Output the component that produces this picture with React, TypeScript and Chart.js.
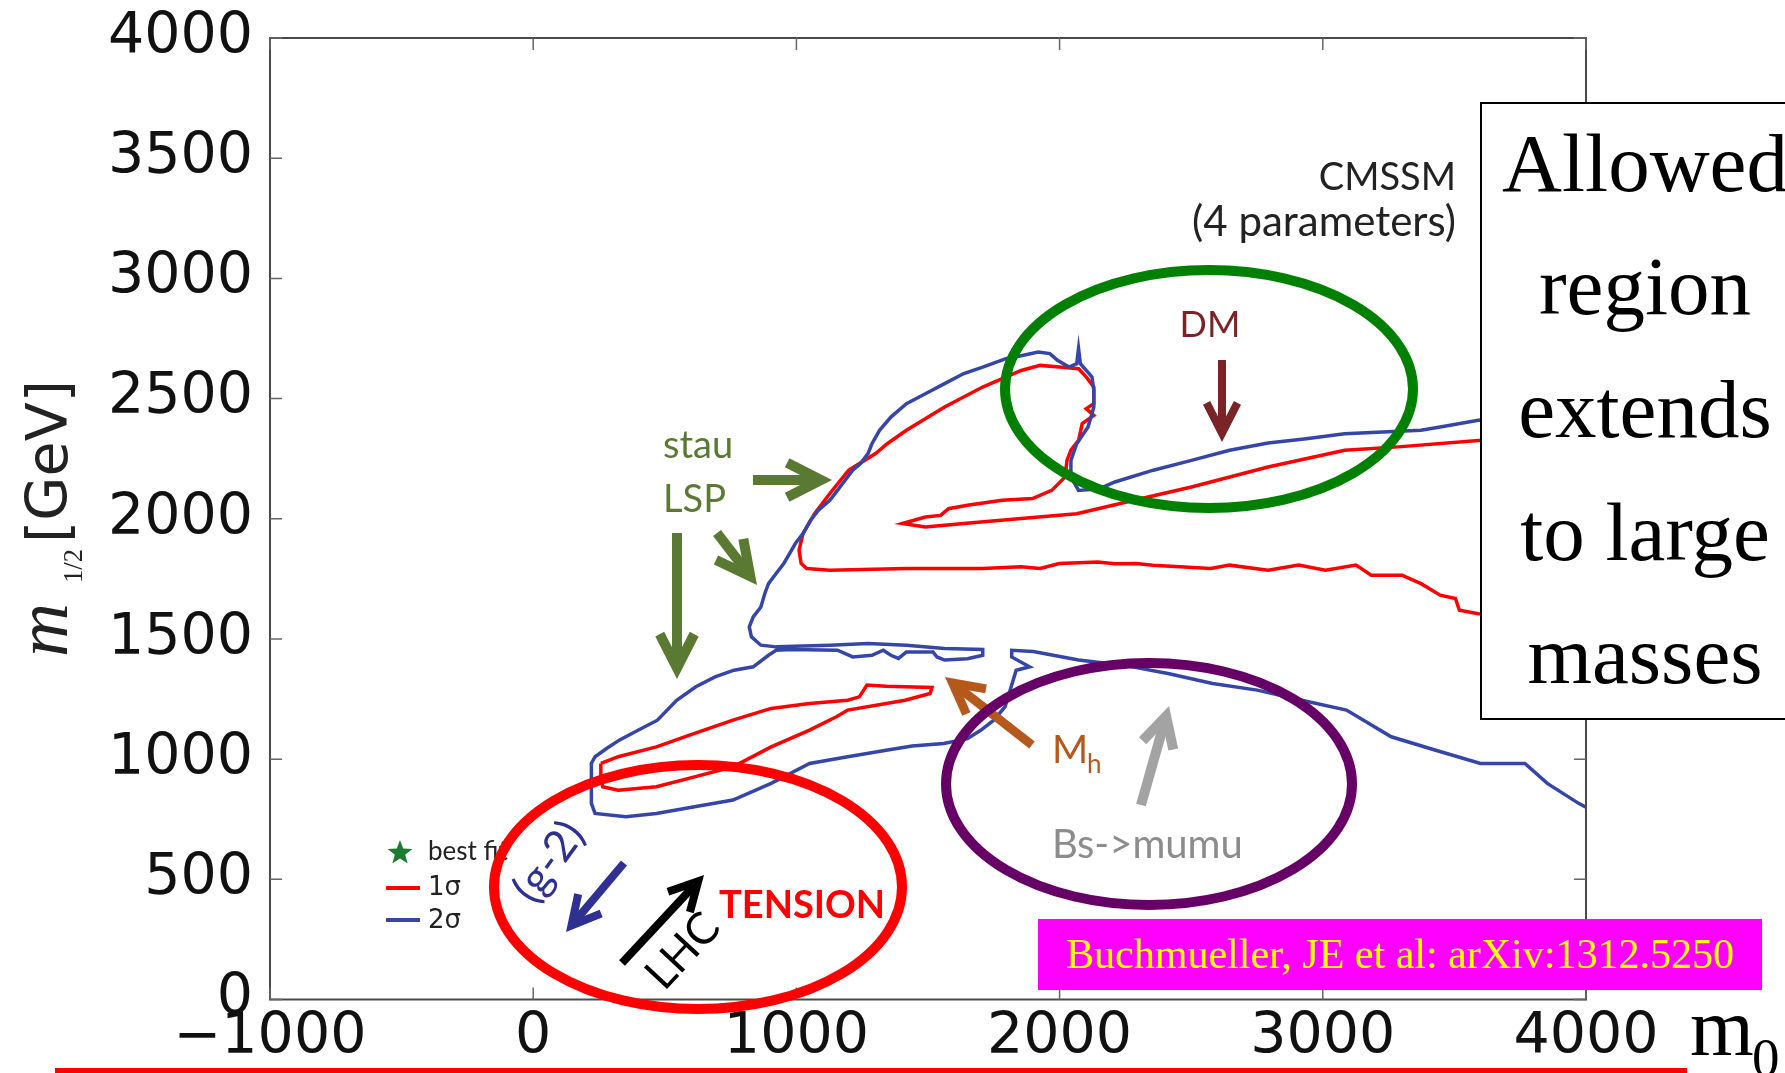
import React, { useEffect, useRef } from "react";
import { Chart, registerables } from "chart.js";
Chart.register(...registerables);

const W = 1785;
const H = 1073;

// Axis ranges / ticks
const xRange = [-1000, 4000];
const yRange = [0, 4000];
const xStep = 1000;
const yStep = 500;

// 2 sigma contour (blue), m0 [GeV], m1/2 [GeV]
const blueContour: number[][] = [
  [4000, 2440], [3591, 2410], [3446, 2382], [3373, 2368], [3228, 2361], [3083, 2354], [2937, 2333],
  [2792, 2315], [2646, 2285], [2501, 2243], [2356, 2202], [2210, 2153], [2152, 2125], [2072, 2118],
  [2043, 2174], [2043, 2243], [2065, 2312], [2108, 2382], [2123, 2437], [2130, 2465], [2130, 2534],
  [2123, 2590], [2079, 2645], [2072, 2708], [2065, 2645], [2036, 2631], [1992, 2659], [1963, 2687],
  [1919, 2694], [1832, 2673], [1796, 2666], [1708, 2631], [1636, 2604], [1563, 2562], [1490, 2520],
  [1418, 2479], [1359, 2423], [1316, 2368], [1287, 2312], [1272, 2271], [1243, 2229], [1214, 2202],
  [1185, 2160], [1156, 2118], [1127, 2077], [1083, 2035], [1054, 1994], [1025, 1938], [996, 1897],
  [974, 1855], [952, 1814], [923, 1772], [894, 1730], [880, 1689], [865, 1633], [836, 1592],
  [821, 1550], [829, 1509], [865, 1474], [923, 1467], [1127, 1474], [1272, 1481], [1418, 1474],
  [1563, 1460], [1708, 1456], [1708, 1432], [1650, 1418], [1563, 1412], [1534, 1425], [1519, 1446],
  [1418, 1446], [1388, 1419], [1359, 1432], [1330, 1453], [1287, 1432], [1214, 1425], [1156, 1453],
  [981, 1456], [923, 1453], [894, 1432], [836, 1384], [763, 1370], [691, 1342], [618, 1301],
  [545, 1245], [472, 1162], [400, 1121], [327, 1079], [280, 1045], [235, 1010], [221, 982],
  [221, 816], [235, 774], [352, 760], [468, 774], [613, 802], [759, 830], [904, 899], [1050, 982],
  [1195, 1010], [1341, 1037], [1440, 1055], [1560, 1065], [1650, 1085], [1700, 1120], [1750, 1162],
  [1793, 1218], [1835, 1370], [1886, 1384], [1818, 1425], [1818, 1453], [1900, 1448], [2072, 1412],
  [2242, 1391], [2412, 1356], [2581, 1315], [2751, 1287], [2920, 1245], [3090, 1204], [3260, 1093],
  [3429, 1037], [3599, 982], [3768, 982], [3853, 899], [3972, 816], [4000, 800],
];

// 1 sigma contour (red), upper region
const redContourUpper: number[][] = [
  [4000, 1590], [3591, 1605], [3519, 1619], [3504, 1668], [3446, 1682], [3373, 1730], [3301, 1765],
  [3184, 1765], [3126, 1807], [3010, 1786], [2908, 1807], [2792, 1786], [2646, 1807], [2574, 1793],
  [2355, 1807], [2290, 1814], [2210, 1813], [2145, 1820], [1999, 1814], [1926, 1793], [1854, 1800],
  [1708, 1793], [1418, 1793], [1127, 1786], [1039, 1793], [1018, 1814], [1010, 1869], [1025, 1938],
  [1069, 2021], [1127, 2105], [1199, 2202], [1301, 2271], [1345, 2312], [1418, 2368], [1563, 2465],
  [1708, 2548], [1854, 2617], [1926, 2638], [1999, 2631], [2072, 2624], [2101, 2590], [2130, 2548],
  [2130, 2479], [2101, 2458], [2130, 2430], [2086, 2396], [2072, 2326], [2043, 2285], [2028, 2243],
  [2021, 2174], [1970, 2118], [1897, 2084], [1781, 2077], [1650, 2056], [1578, 2042], [1548, 2014],
  [1490, 2007], [1403, 1980], [1490, 1966], [1636, 1980], [1854, 2001], [2065, 2021], [2283, 2077],
  [2501, 2132], [2792, 2215], [3083, 2285], [3286, 2299], [3591, 2326], [4000, 2340],
];

// 1 sigma contour (red), lower region
const redContourLower: number[][] = [
  [257, 982], [323, 1010], [468, 1051], [613, 1107], [759, 1162], [904, 1211], [1050, 1231],
  [1195, 1245], [1239, 1259], [1268, 1308], [1341, 1303], [1515, 1298], [1508, 1273], [1413, 1245],
  [1195, 1204], [1152, 1176], [1050, 1121], [904, 1051], [759, 968], [613, 926], [468, 885],
  [323, 871], [264, 885], [257, 926], [257, 982],
];

const legendLabels = ["best fit", "1σ", "2σ"];
const boxLines = ["Allowed", "region", "extends", "to large", "masses"];
const citation = "Buchmueller, JE et al: arXiv:1312.5250";

const RED = "#ff0000";
const BLUE = "#3545a8";
const OLIVE = "#5a7a34";

function arrow(
  ctx: CanvasRenderingContext2D,
  x1: number, y1: number, x2: number, y2: number,
  color: string, lw: number, arm = 36, angDeg = 28
) {
  const a = Math.atan2(y2 - y1, x2 - x1);
  const t = (angDeg * Math.PI) / 180;
  const back = lw / (2 * Math.sin(t));
  const tx = x2 - Math.cos(a) * back;
  const ty = y2 - Math.sin(a) * back;
  ctx.save();
  ctx.strokeStyle = color;
  ctx.lineWidth = lw;
  ctx.lineCap = "butt";
  ctx.lineJoin = "miter";
  ctx.miterLimit = 10;
  ctx.beginPath();
  ctx.moveTo(x1, y1);
  ctx.lineTo(tx - Math.cos(a) * lw * 0.5, ty - Math.sin(a) * lw * 0.5);
  ctx.stroke();
  ctx.beginPath();
  ctx.moveTo(tx - arm * Math.cos(a - t), ty - arm * Math.sin(a - t));
  ctx.lineTo(tx, ty);
  ctx.lineTo(tx - arm * Math.cos(a + t), ty - arm * Math.sin(a + t));
  ctx.stroke();
  ctx.restore();
}

function text(
  ctx: CanvasRenderingContext2D, s: string, x: number, y: number,
  font: string, color: string, align: CanvasTextAlign = "left",
  baseline: CanvasTextBaseline = "alphabetic", angleDeg = 0
) {
  ctx.save();
  ctx.translate(x, y);
  if (angleDeg) ctx.rotate((angleDeg * Math.PI) / 180);
  ctx.font = font;
  ctx.fillStyle = color;
  ctx.textAlign = align;
  ctx.textBaseline = baseline;
  ctx.fillText(s, 0, 0);
  ctx.restore();
}

function ellipse(ctx: CanvasRenderingContext2D, cx: number, cy: number, rx: number, ry: number, color: string, lw: number) {
  ctx.save();
  ctx.strokeStyle = color;
  ctx.lineWidth = lw;
  ctx.beginPath();
  ctx.ellipse(cx, cy, rx, ry, 0, 0, Math.PI * 2);
  ctx.stroke();
  ctx.restore();
}

function star(ctx: CanvasRenderingContext2D, cx: number, cy: number, r: number, color: string) {
  ctx.save();
  ctx.fillStyle = color;
  ctx.beginPath();
  for (let i = 0; i < 10; i++) {
    const rr = i % 2 === 0 ? r : r * 0.42;
    const a = -Math.PI / 2 + (i * Math.PI) / 5;
    const px = cx + rr * Math.cos(a);
    const py = cy + rr * Math.sin(a);
    if (i === 0) ctx.moveTo(px, py);
    else ctx.lineTo(px, py);
  }
  ctx.closePath();
  ctx.fill();
  ctx.restore();
}

// font size giving the wanted advance width for a string
function fitSize(ctx: CanvasRenderingContext2D, s: string, fontTpl: (n: number) => string, width: number) {
  ctx.font = fontTpl(100);
  const w = ctx.measureText(s).width || 100;
  return (100 * width) / w;
}

const decorPlugin = {
  id: "decor",
  afterDatasetsDraw(chart: any) {
    const ctx: CanvasRenderingContext2D = chart.ctx;
    const { left, right, top, bottom } = chart.chartArea;
    const xs = chart.scales.x;
    const ys = chart.scales.y;

    // frame and inward ticks
    ctx.save();
    ctx.strokeStyle = "#4a4a4a";
    ctx.lineWidth = 2;
    ctx.strokeRect(left, top, right - left, bottom - top);
    ctx.lineWidth = 1.5;
    ctx.strokeStyle = "#666";
    const tl = 12;
    for (let v = xRange[0]; v <= xRange[1]; v += xStep) {
      const px = xs.getPixelForValue(v);
      ctx.beginPath();
      ctx.moveTo(px, bottom); ctx.lineTo(px, bottom - tl);
      ctx.moveTo(px, top); ctx.lineTo(px, top + tl);
      ctx.stroke();
    }
    for (let v = yRange[0]; v <= yRange[1]; v += yStep) {
      const py = ys.getPixelForValue(v);
      ctx.beginPath();
      ctx.moveTo(left, py); ctx.lineTo(left + tl, py);
      ctx.moveTo(right, py); ctx.lineTo(right - tl, py);
      ctx.stroke();
    }
    ctx.restore();

    // legend
    star(ctx, 400, 853, 13, "#1e7b34");
    text(ctx, legendLabels[0], 428, 860, '26px Lato', "#222");
    ctx.save();
    ctx.lineWidth = 4;
    ctx.strokeStyle = RED;
    ctx.beginPath(); ctx.moveTo(386, 888); ctx.lineTo(420, 888); ctx.stroke();
    ctx.strokeStyle = BLUE;
    ctx.beginPath(); ctx.moveTo(386, 920); ctx.lineTo(420, 920); ctx.stroke();
    ctx.restore();
    text(ctx, legendLabels[1], 428, 895, '26px "DejaVu Sans"', "#222");
    text(ctx, legendLabels[2], 428, 928, '26px "DejaVu Sans"', "#222");

    // model labels
    text(ctx, "CMSSM", 1456, 190, "38px Lato", "#222", "right");
    text(ctx, "(4 parameters)", 1456, 236, "42px Lato", "#222", "right");

    // DM
    text(ctx, "DM", 1210, 337, "36px Lato", "#7a2427", "center");
    arrow(ctx, 1222, 360, 1222, 442, "#7a2427", 8, 34, 27);

    // stau LSP
    text(ctx, "stau", 663, 458, "38px Lato", OLIVE);
    text(ctx, "LSP", 663, 512, "38px Lato", OLIVE);
    arrow(ctx, 753, 480, 832, 480, OLIVE, 10, 38, 27);
    arrow(ctx, 717, 533, 757, 585, OLIVE, 10, 38, 27);
    arrow(ctx, 677, 533, 677, 679, OLIVE, 10, 38, 27);

    // Mh
    text(ctx, "M", 1052, 763, "39px Lato", "#b5581c");
    text(ctx, "h", 1087, 773, "26px Lato", "#b5581c");
    arrow(ctx, 1032, 745, 945, 677, "#b5581c", 9, 34, 28);

    // Bs->mumu
    arrow(ctx, 1141, 805, 1169, 706, "#a3a3a3", 10, 34, 28);
    text(ctx, "Bs->mumu", 1052, 858, "40px Lato", "#8c8c8c");

    // g-2, LHC, tension
    text(ctx, "(g-2)", 549, 862, "44px Lato", "#2e3192", "center", "middle", -54);
    arrow(ctx, 624, 863, 566, 932, "#2e3192", 8, 32, 28);
    arrow(ctx, 622, 963, 704, 875, "#000", 8, 32, 28);
    text(ctx, "LHC", 683, 951, "44px Lato", "#000", "center", "middle", -47);
    text(ctx, "TENSION", 719, 918, "bold 38px Lato", RED);

    // ellipses
    ellipse(ctx, 1209, 389, 204, 119, "#008000", 10);
    ellipse(ctx, 698, 887, 204, 122, RED, 10);
    ellipse(ctx, 1149, 784, 203, 121, "#660066", 10);

    // y axis title: m_{1/2}[GeV], rotated, pieces sized to measured extents
    ctx.save();
    ctx.translate(67, 657);
    ctx.rotate(-Math.PI / 2);
    ctx.fillStyle = "#222";
    ctx.textAlign = "left";
    ctx.textBaseline = "alphabetic";
    const mFont = (n: number) => `italic ${n}px "Liberation Serif"`;
    const subFont = (n: number) => `${n}px "Liberation Serif"`;
    const gevFont = (n: number) => `${n}px "DejaVu Sans"`;
    const mSize = Math.min(80, fitSize(ctx, "m", mFont, 54));
    const subSize = Math.min(36, fitSize(ctx, "1/2", subFont, 34));
    const gevSize = Math.min(62, fitSize(ctx, "[GeV]", gevFont, 163));
    ctx.font = mFont(mSize);
    ctx.fillText("m", 0, 0);
    ctx.font = subFont(subSize);
    ctx.fillText("1/2", 74, 15);
    ctx.font = gevFont(gevSize);
    ctx.fillText("[GeV]", 114, 0);
    ctx.restore();

    // x axis title m0
    text(ctx, "m", 1690, 1055, '82px "Liberation Serif"', "#000");
    text(ctx, "0", 1752, 1076, '55px "Liberation Serif"', "#000");

    // red underline
    ctx.save();
    ctx.fillStyle = RED;
    ctx.fillRect(55, 1068, 1632, 5);
    ctx.restore();
  },
};

export default function App() {
  const ref = useRef<HTMLCanvasElement>(null);
  useEffect(() => {
    const toPts = (arr: number[][]) => arr.map(([x, y]) => ({ x, y }));
    const line = (label: string, arr: number[][], color: string) => ({
      label,
      data: toPts(arr),
      showLine: true,
      borderColor: color,
      backgroundColor: color,
      borderWidth: 3.5,
      pointRadius: 0,
      tension: 0,
    });
    const chart = new Chart(ref.current as HTMLCanvasElement, {
      type: "scatter",
      data: {
        datasets: [
          line("2σ", blueContour, BLUE),
          line("1σ", redContourUpper, RED),
          line("1σ lower", redContourLower, RED),
        ],
      },
      options: {
        responsive: false,
        animation: false,
        devicePixelRatio: 1,
        layout: { padding: { left: 0, top: 38, right: 199, bottom: 0 } },
        plugins: { legend: { display: false }, tooltip: { enabled: false }, title: { display: false } },
        events: [],
        scales: {
          x: {
            type: "linear",
            min: xRange[0],
            max: xRange[1],
            grid: { display: false, drawTicks: false },
            border: { display: false },
            afterFit: (s: any) => {
              s.height = 73.5;
              s.paddingLeft = 0;
              s.paddingRight = 0;
            },
            ticks: {
              stepSize: xStep,
              autoSkip: false,
              maxRotation: 0,
              minRotation: 0,
              padding: 4,
              color: "#111",
              font: { family: "DejaVu Sans", size: 57 },
              callback: (v: any) => (Number(v) < 0 ? "\u2212" + Math.abs(Number(v)) : String(v)),
            },
          },
          y: {
            type: "linear",
            min: yRange[0],
            max: yRange[1],
            grid: { display: false, drawTicks: false },
            border: { display: false },
            afterFit: (s: any) => {
              s.width = 270;
              s.paddingTop = 0;
              s.paddingBottom = 0;
            },
            ticks: {
              stepSize: yStep,
              autoSkip: false,
              padding: 17,
              color: "#111",
              font: { family: "DejaVu Sans", size: 57 },
              callback: (v: any) => String(v),
            },
          },
        },
      },
      plugins: [decorPlugin],
    } as any);
    return () => chart.destroy();
  }, []);

  return (
    <div style={{ position: "fixed", left: 0, top: 0, width: W, height: H, overflow: "hidden", background: "#fff" }}>
      <canvas ref={ref} width={W} height={H} style={{ position: "absolute", left: 0, top: 0, width: W, height: H }} />
      <div
        style={{
          position: "absolute", left: 1480, top: 102, width: 330, height: 618,
          border: "2px solid #000", boxSizing: "border-box", background: "#fff",
          fontFamily: '"Liberation Serif", serif', fontSize: 83, lineHeight: "123px",
          textAlign: "center", whiteSpace: "nowrap", color: "#000",
        }}
      >
        <div style={{ position: "relative", top: -2 }}>
          {boxLines.map((l, i) => (<div key={i}>{l}</div>))}
        </div>
      </div>
      <div
        style={{
          position: "absolute", left: 1038, top: 919, width: 724, height: 71,
          background: "#ff00ff", color: "#ffff00", fontFamily: '"Liberation Serif", serif',
          fontSize: 42, lineHeight: "71px", textAlign: "center", whiteSpace: "nowrap",
        }}
      >
        {citation}
      </div>
    </div>
  );
}
